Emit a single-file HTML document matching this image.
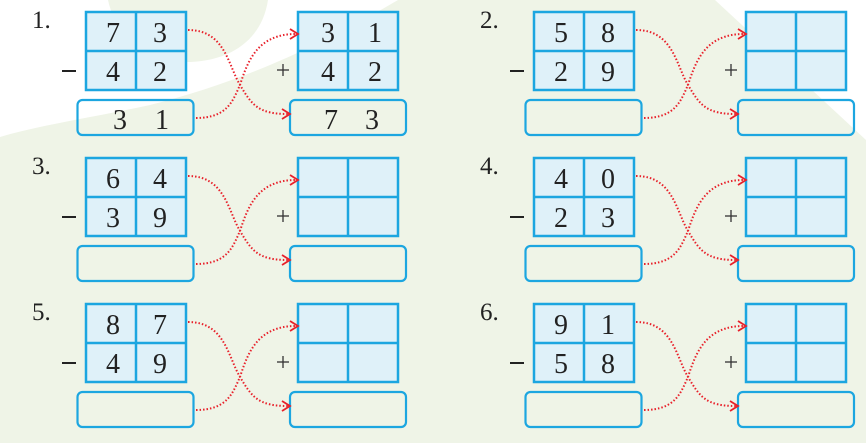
<!DOCTYPE html>
<html><head><meta charset="utf-8"><style>
html,body{margin:0;padding:0;background:#eff4e7;}
svg{display:block}
.t{font-family:"Liberation Serif","DejaVu Serif",serif;}
</style></head><body>
<svg width="866" height="443" viewBox="0 0 866 443" xmlns="http://www.w3.org/2000/svg">
<defs>
<g id="ex">
  <rect x="86" y="12" width="100" height="78" fill="#dff1f9" stroke="#1ca6e0" stroke-width="2.5"/>
  <line x1="136" y1="12" x2="136" y2="90" stroke="#1ca6e0" stroke-width="2.5"/>
  <line x1="86" y1="51" x2="186" y2="51" stroke="#1ca6e0" stroke-width="2.5"/>
  <rect x="77.5" y="100" width="116" height="35" rx="5" fill="none" stroke="#1ca6e0" stroke-width="2.2"/>
  <rect x="298" y="12" width="100" height="78" fill="#dff1f9" stroke="#1ca6e0" stroke-width="2.5"/>
  <line x1="348" y1="12" x2="348" y2="90" stroke="#1ca6e0" stroke-width="2.5"/>
  <line x1="298" y1="51" x2="398" y2="51" stroke="#1ca6e0" stroke-width="2.5"/>
  <rect x="290" y="100" width="116" height="35" rx="5" fill="none" stroke="#1ca6e0" stroke-width="2.2"/>
  <line x1="62" y1="71" x2="76" y2="71" stroke="#222" stroke-width="2"/>
  <line x1="277" y1="70" x2="289" y2="70" stroke="#333" stroke-width="1.3"/>
  <line x1="283" y1="64" x2="283" y2="76" stroke="#333" stroke-width="1.3"/>
  <path d="M188,30 C225,30 228,65 240,85 C252,105 258,114 288,114" fill="none" stroke="#e8202a" stroke-width="2" stroke-dasharray="1.5 2"/>
  <path d="M282,109 L290,114 L282,119" fill="none" stroke="#e8202a" stroke-width="1.8"/>
  <path d="M196,118 C228,118 233,100 240,85 C248,60 258,34 296,34" fill="none" stroke="#e8202a" stroke-width="2" stroke-dasharray="1.5 2"/>
  <path d="M290,29 L298,34 L290,39" fill="none" stroke="#e8202a" stroke-width="1.8"/>
</g>
</defs>
<path d="M0,0 L398,0 C330,40 250,80 150,105 C90,118 40,125 0,137 Z" fill="#fff"/>
<path d="M108,0 L268,0 C262,40 230,62 185,62 C150,62 115,35 108,0 Z" fill="#eff4e7"/>
<path d="M715,0 L866,0 L866,140 Z" fill="#fff"/>

<use href="#ex"/>
<use href="#ex" transform="translate(448,0)"/>
<use href="#ex" transform="translate(0,146)"/>
<use href="#ex" transform="translate(448,146)"/>
<use href="#ex" transform="translate(0,292)"/>
<use href="#ex" transform="translate(448,292)"/>

<g class="t" font-size="25" fill="#222" style="font-family:'Liberation Serif','DejaVu Serif',serif">
<text x="32" y="28">1.</text><text x="480" y="28">2.</text>
<text x="32" y="174">3.</text><text x="480" y="174">4.</text>
<text x="32" y="320">5.</text><text x="480" y="320">6.</text>
</g>
<g class="t" font-size="28" text-anchor="middle" fill="#222" style="font-family:'Liberation Serif','DejaVu Serif',serif">
<text x="113" y="42">7</text><text x="160" y="42">3</text>
<text x="113" y="81">4</text><text x="160" y="81">2</text>
<text x="120" y="129">3</text><text x="162" y="129">1</text>
<text x="328" y="42">3</text><text x="375" y="42">1</text>
<text x="328" y="81">4</text><text x="375" y="81">2</text>
<text x="331" y="129">7</text><text x="372" y="129">3</text>

<text x="561" y="42">5</text><text x="608" y="42">8</text>
<text x="561" y="81">2</text><text x="608" y="81">9</text>

<text x="113" y="188">6</text><text x="160" y="188">4</text>
<text x="113" y="227">3</text><text x="160" y="227">9</text>

<text x="561" y="188">4</text><text x="608" y="188">0</text>
<text x="561" y="227">2</text><text x="608" y="227">3</text>

<text x="113" y="334">8</text><text x="160" y="334">7</text>
<text x="113" y="373">4</text><text x="160" y="373">9</text>

<text x="561" y="334">9</text><text x="608" y="334">1</text>
<text x="561" y="373">5</text><text x="608" y="373">8</text>
</g>
</svg>
</body></html>
